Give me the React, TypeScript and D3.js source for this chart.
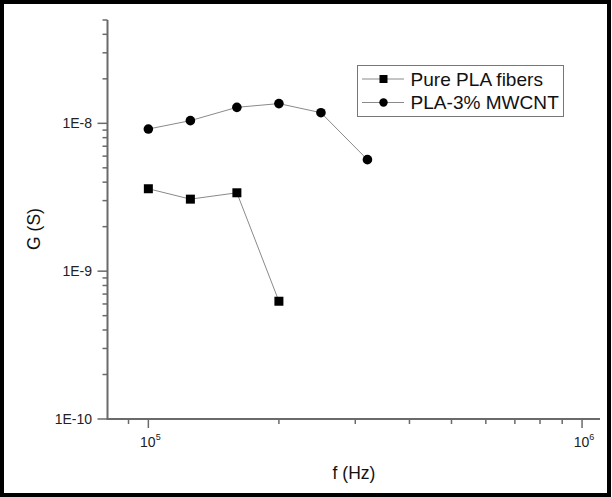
import React from "react";
import * as d3 from "d3";

const freqs: number[] = [1e5, 1.25e5, 1.6e5, 2e5, 2.5e5, 3.2e5];
const pureLabel = "Pure PLA fibers";
const mwcntLabel = "PLA-3% MWCNT";
const pureValues: number[] = [3.61e-9, 3.07e-9, 3.39e-9, 6.26e-10];
const mwcntValues: number[] = [9.15e-9, 1.043e-8, 1.283e-8, 1.36e-8, 1.18e-8, 5.68e-9];
const yMajorTicks: number[] = [1e-10, 1e-9, 1e-8];
const yTickLabels: string[] = ["1E-10", "1E-9", "1E-8"];
const xMajorTicks: number[] = [1e5, 1e6];
const xTickExponents: string[] = ["5", "6"];
const xTitle = "f (Hz)";
const yTitle = "G (S)";

const W = 612;
const H = 497;
const FONT = "'Liberation Sans', Arial, sans-serif";

export default function App() {
  const x = d3.scaleLog().domain([8.05e4, 1.1e6]).range([107.5, 600]);
  const y = d3.scaleLog().domain([1e-10, 5e-8]).range([419, 20]);

  const yMinor: number[] = [];
  for (let e = -10; e <= -8; e++) {
    for (let m = 2; m <= 9; m++) {
      const v = m * Math.pow(10, e);
      if (v <= 5e-8 + 1e-20) yMinor.push(v);
    }
  }
  const xMinor: number[] = [9e4];
  for (let m = 2; m <= 9; m++) xMinor.push(m * 1e5);

  const purePts = pureValues.map((v, i) => [freqs[i], v] as [number, number]);
  const mwPts = mwcntValues.map((v, i) => [freqs[i], v] as [number, number]);
  const line = d3
    .line<[number, number]>()
    .x((d) => x(d[0]))
    .y((d) => y(d[1]));

  const axisColor = "#6a6a6a";
  const x0 = x.range()[0];
  const x1 = x.range()[1];
  const yBottom = y.range()[0];
  const yTop = y.range()[1];

  const sq = 9;
  const r = 4.8;

  const legendRows = [
    { label: pureLabel, kind: "square" },
    { label: mwcntLabel, kind: "circle" },
  ];

  return (
    <svg
      width={W}
      height={H}
      style={{ position: "absolute", left: 0, top: 0, background: "#fff" }}
      fontFamily={FONT}
    >
      <rect x={0} y={0} width={W} height={H} fill="#fff" />
      <rect x={2} y={2} width={607} height={493} fill="none" stroke="#000" strokeWidth={4} />

      {/* axes */}
      <line x1={x0} x2={x0} y1={yTop} y2={yBottom} stroke={axisColor} strokeWidth={2} />
      <line x1={x0 - 1} x2={x1} y1={yBottom} y2={yBottom} stroke={axisColor} strokeWidth={2} />

      {/* y ticks */}
      {yMinor.map((v, i) => (
        <line key={"ym" + i} x1={x0 - 5} x2={x0} y1={y(v)} y2={y(v)} stroke={axisColor} strokeWidth={1.5} />
      ))}
      {yMajorTicks.map((v, i) => (
        <g key={"yM" + i}>
          <line x1={x0 - 10} x2={x0} y1={y(v)} y2={y(v)} stroke={axisColor} strokeWidth={1.5} />
          <text x={92} y={y(v) + 5} textAnchor="end" fontSize={14} fill="#222">
            {yTickLabels[i]}
          </text>
        </g>
      ))}

      {/* x ticks */}
      {xMinor.map((v, i) => (
        <line key={"xm" + i} x1={x(v)} x2={x(v)} y1={yBottom} y2={yBottom + 5} stroke={axisColor} strokeWidth={1.5} />
      ))}
      {xMajorTicks.map((v, i) => (
        <g key={"xM" + i}>
          <line x1={x(v)} x2={x(v)} y1={yBottom} y2={yBottom + 9} stroke={axisColor} strokeWidth={1.5} />
          <text x={x(v) + 2} y={447} textAnchor="middle" fontSize={14} fill="#222">
            10
            <tspan fontSize={9} dy={-7}>
              {xTickExponents[i]}
            </tspan>
          </text>
        </g>
      ))}

      {/* titles */}
      <text x={354} y={479} textAnchor="middle" fontSize={17.5} fill="#111">
        {xTitle}
      </text>
      <text
        transform={`translate(39.6, 229) rotate(-90)`}
        textAnchor="middle"
        fontSize={17.5}
        fill="#111"
      >
        {yTitle}
      </text>

      {/* series lines */}
      <path d={line(purePts) || ""} fill="none" stroke="#8a8a8a" strokeWidth={1} />
      <path d={line(mwPts) || ""} fill="none" stroke="#8a8a8a" strokeWidth={1} />

      {/* markers */}
      {purePts.map((d, i) => (
        <rect key={"p" + i} x={x(d[0]) - sq / 2} y={y(d[1]) - sq / 2} width={sq} height={sq} fill="#000" />
      ))}
      {mwPts.map((d, i) => (
        <circle key={"c" + i} cx={x(d[0])} cy={y(d[1])} r={r} fill="#000" />
      ))}

      {/* legend */}
      <rect x={357.5} y={65.5} width={206} height={51} fill="#fff" stroke="#777" strokeWidth={1} />
      {legendRows.map((row, i) => {
        const cy = 79 + i * 23.5;
        return (
          <g key={"lg" + i}>
            <line x1={362} x2={404} y1={cy} y2={cy} stroke="#8a8a8a" strokeWidth={1} />
            {row.kind === "square" ? (
              <rect x={383.5 - 4} y={cy - 4} width={8} height={8} fill="#000" />
            ) : (
              <circle cx={383.5} cy={cy} r={4.2} fill="#000" />
            )}
            <text
              x={0}
              y={0}
              fontSize={18}
              fill="#111"
              transform={`translate(410.5, ${cy + 6.5}) scale(1.06, 1)`}
            >
              {row.label}
            </text>
          </g>
        );
      })}
    </svg>
  );
}
